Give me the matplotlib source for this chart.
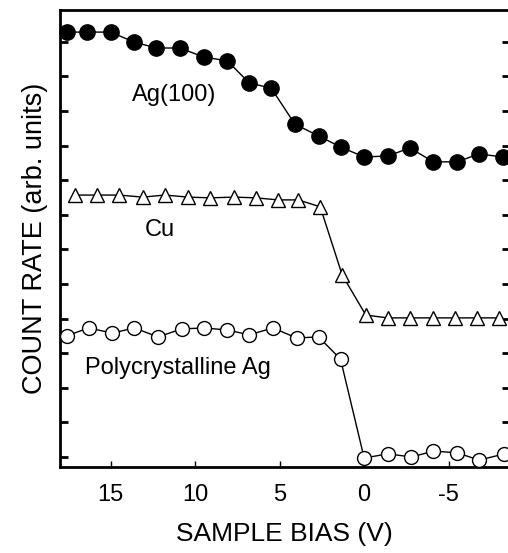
import matplotlib.pyplot as plt

plt.rcParams['font.family'] = ['Liberation Sans', 'DejaVu Sans']

# sample bias (V) and count rate (arb. units)
bias_ag100 = [17.6, 16.4, 15.0, 13.6, 12.3, 10.9, 9.5, 8.1, 6.8, 5.5,
              4.1, 2.7, 1.4, 0.0, -1.4, -2.7, -4.1, -5.5, -6.8, -8.2]
rate_ag100 = [12.28, 12.28, 12.28, 11.99, 11.82, 11.82, 11.56, 11.45, 10.81, 10.66,
              9.62, 9.28, 8.96, 8.67, 8.70, 8.93, 8.53, 8.53, 8.76, 8.67]

bias_cu = [17.1, 15.8, 14.5, 13.1, 11.8, 10.4, 9.1, 7.7, 6.4, 5.1,
           3.9, 2.6, 1.3, -0.1, -1.4, -2.7, -4.1, -5.4, -6.7, -8.0]
rate_cu = [7.57, 7.57, 7.57, 7.51, 7.57, 7.51, 7.49, 7.51, 7.49, 7.43,
           7.43, 7.23, 5.26, 4.10, 4.02, 4.02, 4.02, 4.02, 4.02, 4.02]

bias_poly = [17.6, 16.3, 14.9, 13.6, 12.2, 10.8, 9.5, 8.1, 6.8, 5.4,
             4.0, 2.7, 1.4, 0.0, -1.4, -2.8, -4.1, -5.5, -6.8, -8.3]
rate_poly = [3.50, 3.73, 3.58, 3.73, 3.47, 3.70, 3.73, 3.67, 3.53, 3.73,
             3.44, 3.47, 2.83, -0.03, 0.09, 0.0, 0.17, 0.12, -0.09, 0.09]

fig = plt.figure(figsize=(5.08, 5.53), dpi=100)
ax = fig.add_axes([0.118, 0.1555, 0.885, 0.8265])

ax.plot(bias_ag100, rate_ag100, '-o', color='black', lw=1.0, ms=11,
        mfc='black', mec='black', clip_on=False, zorder=3)
ax.plot(bias_cu, rate_cu, '-^', color='black', lw=1.0, ms=10.5,
        mfc='white', mec='black', mew=1.0, clip_on=False, zorder=3)
ax.plot(bias_poly, rate_poly, '-o', color='black', lw=1.0, ms=10,
        mfc='white', mec='black', mew=1.0, clip_on=False, zorder=3)

ax.text(11.25, 10.46, 'Ag(100)', fontsize=17, ha='center', va='center')
ax.text(12.08, 6.56, 'Cu', fontsize=17, ha='center', va='center')
ax.text(11.0, 2.57, 'Polycrystalline Ag', fontsize=17, ha='center', va='center')

ax.set_xlim(18.0, -8.6)
ax.set_ylim(-0.29, 12.92)
ax.set_xticks([15, 10, 5, 0, -5])
ax.set_xticklabels(['15', '10', '5', '0', '-5'])
ax.set_yticks(range(13))
ax.set_yticklabels([])
ax.tick_params(axis='x', direction='in', length=4, width=1, labelsize=17, pad=12)
ax.tick_params(axis='y', direction='in', length=6, width=2, left=True, right=True)
for s in ax.spines.values():
    s.set_linewidth(2)
ax.spines['right'].set_visible(False)

ax.set_xlabel('SAMPLE BIAS (V)', fontsize=19, labelpad=12)
ax.set_ylabel('COUNT RATE (arb. units)', fontsize=19.5, labelpad=5)

fig.savefig('out.png', dpi=100)
